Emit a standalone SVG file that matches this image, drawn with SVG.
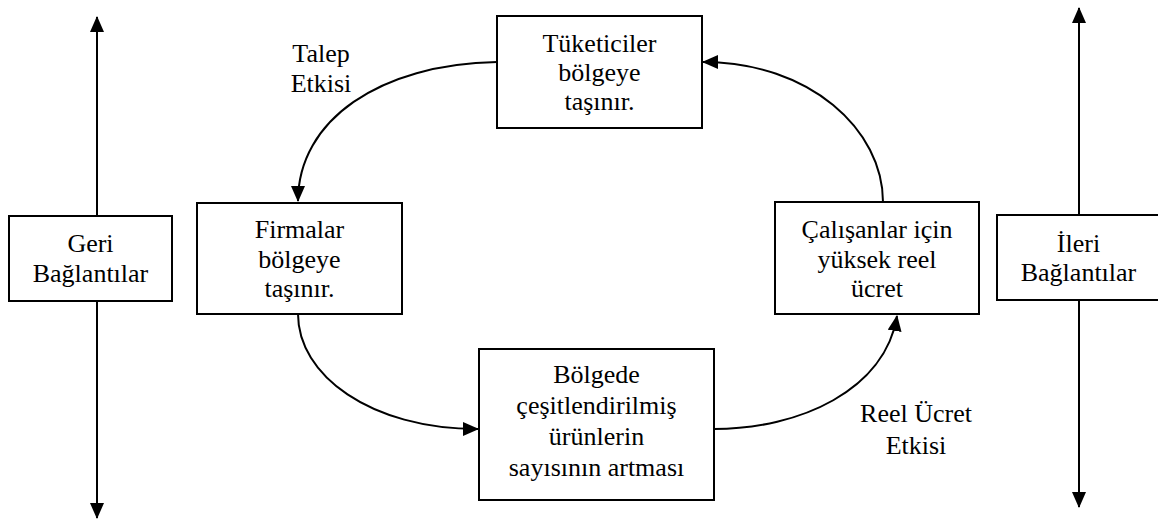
<svg xmlns="http://www.w3.org/2000/svg" width="1158" height="522" viewBox="0 0 1158 522">
<style>
.box{fill:#fff;stroke:#000;stroke-width:2}
.ln{fill:none;stroke:#000;stroke-width:2}
.t{font-family:'Liberation Serif', 'DejaVu Serif', serif;font-size:26px;fill:#000;text-anchor:middle}
</style>
<defs>
<marker id="ah" viewBox="0 0 16 14" refX="15" refY="7" markerWidth="16" markerHeight="14" orient="auto" markerUnits="userSpaceOnUse">
<path d="M0,0 L16,7 L0,14 z" fill="#000"/>
</marker>
</defs>
<rect width="1158" height="522" fill="#fff"/>
<g id="connectors">
<line class="ln" x1="97" y1="216" x2="97" y2="17" marker-end="url(#ah)"/>
<line class="ln" x1="97" y1="301" x2="97" y2="518" marker-end="url(#ah)"/>
<line class="ln" x1="1079" y1="215" x2="1079" y2="8" marker-end="url(#ah)"/>
<line class="ln" x1="1079" y1="300" x2="1079" y2="507" marker-end="url(#ah)"/>
<path class="ln" d="M497,62 C380,64 298,120 298,201" marker-end="url(#ah)"/>
<path class="ln" d="M298,314 C298,375 370,429 478,429" marker-end="url(#ah)"/>
<path class="ln" d="M714,429 C800,429 885,390 897,316" marker-end="url(#ah)"/>
<path class="ln" d="M883,202 C883,130 810,62 703,62" marker-end="url(#ah)"/>
</g>
<g id="talep-label">
<text class="t" font-family="Liberation Serif, serif" x="321" y="62">Talep</text>
<text class="t" font-family="Liberation Serif, serif" x="321" y="92">Etkisi</text>
</g>
<g id="reel-label">
<text class="t" font-family="Liberation Serif, serif" x="916" y="422">Reel Ücret</text>
<text class="t" font-family="Liberation Serif, serif" x="916" y="454">Etkisi</text>
</g>
<g id="tuketiciler">
<rect class="box" x="497" y="16" width="205" height="112"/>
<text class="t" font-family="Liberation Serif, serif" x="599.5" y="52">Tüketiciler</text>
<text class="t" font-family="Liberation Serif, serif" x="599.5" y="81">bölgeye</text>
<text class="t" font-family="Liberation Serif, serif" x="599.5" y="110">taşınır.</text>
</g>
<g id="geri">
<rect class="box" x="9" y="216" width="163" height="85"/>
<text class="t" font-family="Liberation Serif, serif" x="90.5" y="252">Geri</text>
<text class="t" font-family="Liberation Serif, serif" x="90.5" y="282">Bağlantılar</text>
</g>
<g id="firmalar">
<rect class="box" x="197" y="203" width="205" height="111"/>
<text class="t" font-family="Liberation Serif, serif" x="299.5" y="238">Firmalar</text>
<text class="t" font-family="Liberation Serif, serif" x="299.5" y="268">bölgeye</text>
<text class="t" font-family="Liberation Serif, serif" x="299.5" y="297">taşınır.</text>
</g>
<g id="calisanlar">
<rect class="box" x="775" y="202" width="204" height="112"/>
<text class="t" font-family="Liberation Serif, serif" x="877" y="238">Çalışanlar için</text>
<text class="t" font-family="Liberation Serif, serif" x="877" y="268">yüksek reel</text>
<text class="t" font-family="Liberation Serif, serif" x="877" y="297">ücret</text>
</g>
<g id="ileri">
<rect class="box" x="997" y="215" width="165" height="85"/>
<text class="t" font-family="Liberation Serif, serif" x="1078.5" y="252">İleri</text>
<text class="t" font-family="Liberation Serif, serif" x="1078.5" y="281">Bağlantılar</text>
</g>
<g id="bolgede">
<rect class="box" x="479" y="349" width="235" height="151"/>
<text class="t" font-family="Liberation Serif, serif" x="596.5" y="383">Bölgede</text>
<text class="t" font-family="Liberation Serif, serif" x="596.5" y="414">çeşitlendirilmiş</text>
<text class="t" font-family="Liberation Serif, serif" x="596.5" y="445">ürünlerin</text>
<text class="t" font-family="Liberation Serif, serif" x="596.5" y="476">sayısının artması</text>
</g>
</svg>
